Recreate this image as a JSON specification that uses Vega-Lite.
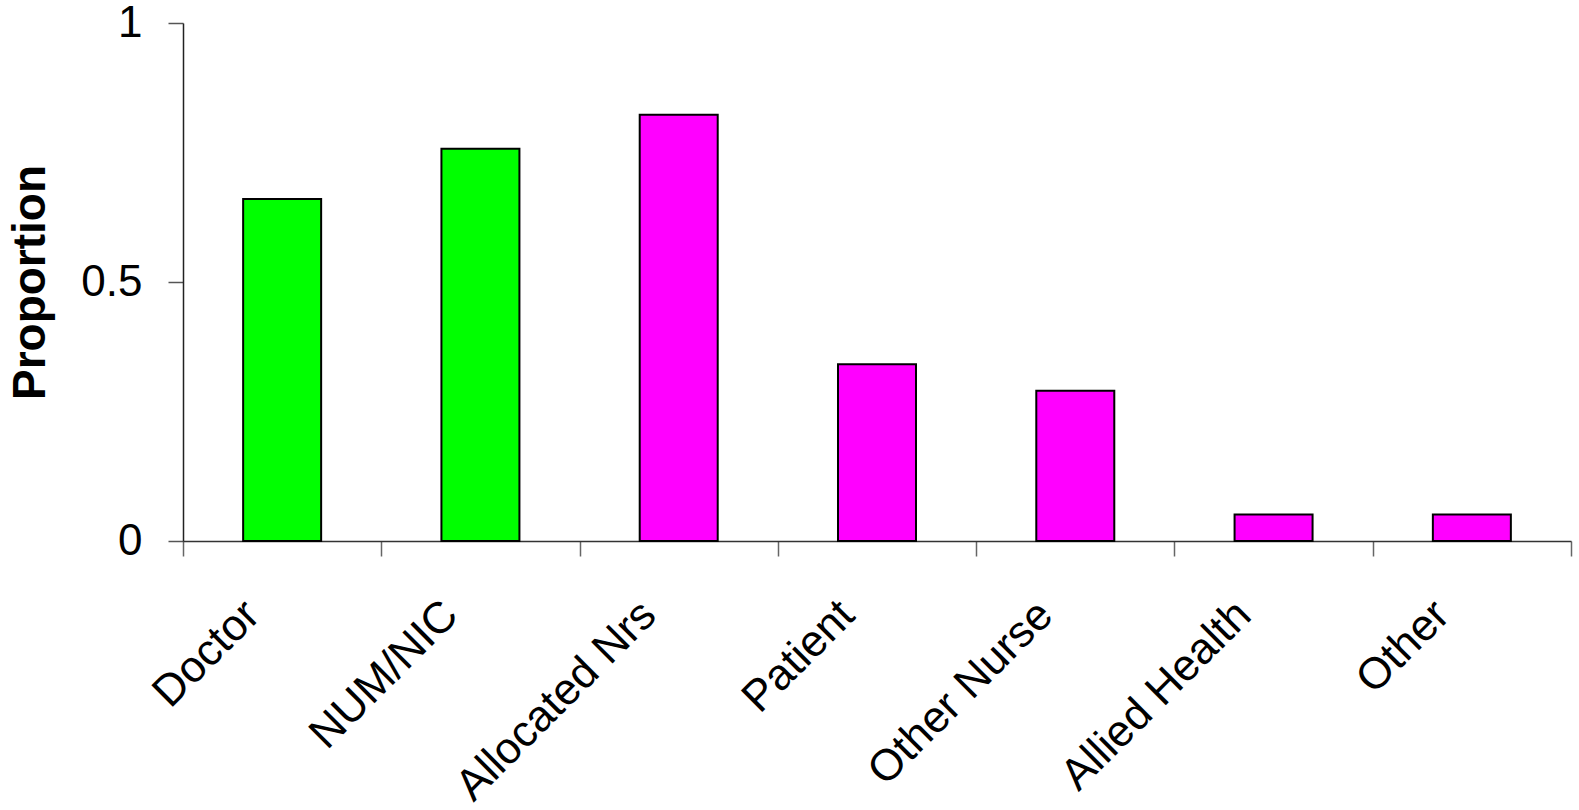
{
  "$schema": "https://vega.github.io/schema/vega-lite/v6.json",
  "width": 1388,
  "height": 518,
  "autosize": {"type": "none"},
  "padding": {"left": 183, "top": 23, "right": 8, "bottom": 269},
  "background": "white",
  "config": {"view": {"stroke": null}, "font": "Liberation Sans"},
  "data": {
    "values": [
      {"category": "Doctor", "proportion": 0.66, "group": "A"},
      {"category": "NUM/NIC", "proportion": 0.757, "group": "A"},
      {"category": "Allocated Nrs", "proportion": 0.823, "group": "B"},
      {"category": "Patient", "proportion": 0.341, "group": "B"},
      {"category": "Other Nurse", "proportion": 0.29, "group": "B"},
      {"category": "Allied Health", "proportion": 0.051, "group": "B"},
      {"category": "Other", "proportion": 0.051, "group": "B"}
    ]
  },
  "mark": {"type": "bar", "size": 78, "stroke": "black", "strokeWidth": 2},
  "encoding": {
    "x": {
      "field": "category",
      "type": "nominal",
      "sort": null,
      "scale": {"paddingInner": 0, "paddingOuter": 0},
      "axis": {
        "title": null,
        "labelAngle": -45,
        "labelAlign": "right",
        "labelBaseline": "middle",
        "labelFontSize": 44,
        "labelLimit": 0,
        "labelColor": "black",
        "labelFont": "Liberation Sans",
        "labelOffset": -30,
        "labelPadding": 52,
        "tickBand": "extent",
        "tickSize": 15,
        "tickColor": "#666",
        "tickWidth": 1.5,
        "domainColor": "#333",
        "domainWidth": 1.5
      }
    },
    "y": {
      "field": "proportion",
      "type": "quantitative",
      "scale": {"domain": [0, 1], "nice": false},
      "axis": {
        "title": "Proportion",
        "titleFontSize": 46,
        "titleFont": "Liberation Sans",
        "titleFontWeight": "bold",
        "titleColor": "black",
        "titlePadding": 26,
        "values": [0, 0.5, 1],
        "format": "~g",
        "grid": false,
        "labelFontSize": 44,
        "labelColor": "black",
        "labelFont": "Liberation Sans",
        "labelPadding": 26,
        "tickSize": 15,
        "tickColor": "#555",
        "tickWidth": 1.5,
        "domainColor": "#222",
        "domainWidth": 1.5
      }
    },
    "color": {
      "field": "group",
      "type": "nominal",
      "scale": {"domain": ["A", "B"], "range": ["#00FF00", "#FF00FF"]},
      "legend": null
    }
  }
}
